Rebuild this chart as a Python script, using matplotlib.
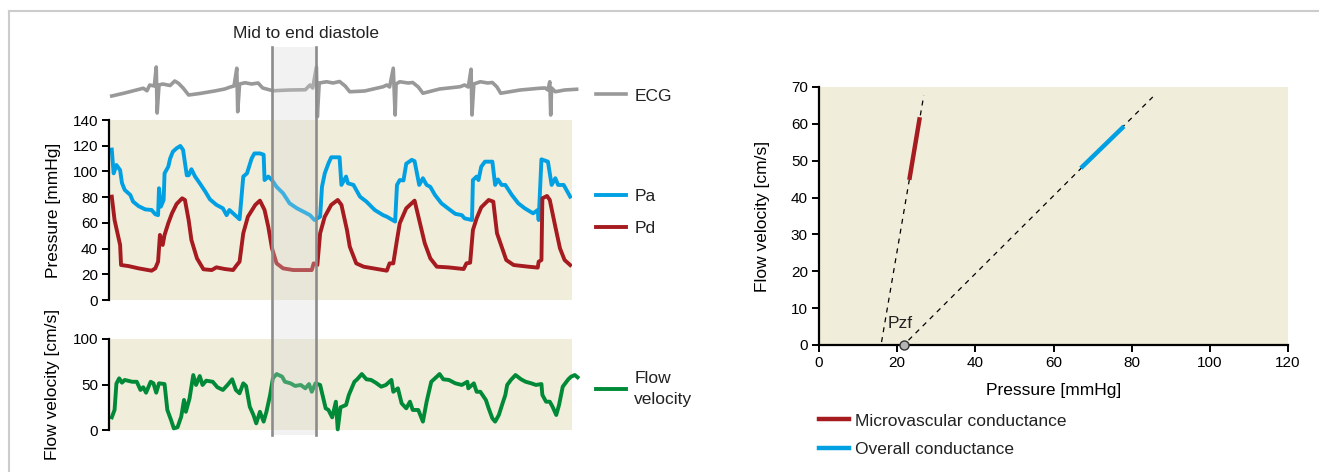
import matplotlib
matplotlib.use("Agg")
import matplotlib.pyplot as plt
from matplotlib.lines import Line2D
from matplotlib.patches import Rectangle
from matplotlib.transforms import blended_transform_factory

# ---- data ----
# time in s, shared by all three left-hand traces
t_ecg = [0.03, 0.17, 0.37, 0.41, 0.44, 0.49, 0.51, 0.52, 0.54, 0.58, 0.66, 0.71, 0.75, 0.80, 0.86,
         0.98, 1.14, 1.25, 1.31, 1.35, 1.38, 1.39, 1.41, 1.47, 1.54, 1.61, 1.66, 1.77, 1.95, 2.12,
         2.17, 2.20, 2.24, 2.25, 2.27, 2.35, 2.42, 2.49, 2.55, 2.60, 2.76, 2.96, 3.00, 3.03, 3.07,
         3.09, 3.10, 3.14, 3.23, 3.28, 3.34, 3.39, 3.57, 3.79, 3.84, 3.88, 3.91, 3.92, 3.94, 4.01,
         4.09, 4.14, 4.19, 4.23, 4.44, 4.65, 4.71, 4.74, 4.76, 4.77, 4.78, 4.82, 4.92, 5.05]
ecg = [-0.16, -0.04, 0.15, 0.05, 0.28, 0.24, 1.00, -0.84, 0.28, 0.32, 0.26, 0.44, 0.35, 0.16, -0.12,
       -0.06, 0.04, 0.12, 0.20, 0.24, 0.95, -0.79, 0.32, 0.37, 0.32, 0.36, 0.16, 0.05, 0.08, 0.09,
       0.28, 0.16, 1.00, -0.99, 0.36, 0.41, 0.36, 0.42, 0.24, 0.01, 0.04, 0.21, 0.28, 0.20, 0.95,
       -0.92, 0.32, 0.41, 0.36, 0.38, 0.20, -0.05, 0.12, 0.21, 0.28, 0.20, 0.91, -0.92, 0.32, 0.41,
       0.36, 0.38, 0.20, -0.05, 0.08, 0.15, 0.16, 0.08, 0.41, -0.92, 0.16, 0.01, 0.08, 0.11]

t_pa = [0.03, 0.05, 0.08, 0.12, 0.14, 0.17, 0.23, 0.26, 0.32, 0.39, 0.46, 0.50, 0.53, 0.54, 0.56,
        0.59, 0.60, 0.64, 0.66, 0.69, 0.73, 0.77, 0.80, 0.84, 0.86, 0.89, 0.93, 0.98, 1.04, 1.09,
        1.16, 1.23, 1.27, 1.30, 1.34, 1.41, 1.45, 1.49, 1.54, 1.57, 1.63, 1.67, 1.68, 1.72, 1.76,
        1.81, 1.88, 1.95, 2.03, 2.10, 2.17, 2.22, 2.28, 2.30, 2.33, 2.37, 2.40, 2.49, 2.51, 2.56,
        2.58, 2.64, 2.71, 2.78, 2.87, 2.96, 3.00, 3.09, 3.11, 3.14, 3.18, 3.21, 3.27, 3.30, 3.35,
        3.39, 3.43, 3.47, 3.52, 3.59, 3.66, 3.74, 3.81, 3.84, 3.92, 3.93, 3.97, 3.99, 4.02, 4.06,
        4.14, 4.17, 4.20, 4.24, 4.28, 4.35, 4.42, 4.49, 4.58, 4.63, 4.64, 4.67, 4.74, 4.78, 4.82,
        4.85, 4.91, 4.98]
pa = [117, 98.5, 105, 101, 91, 85.6, 81.7, 76.5, 73, 70.5, 70, 66.7, 66, 86.9, 72.6,
      77.8, 98.5, 103.7, 110, 115.4, 118, 119.8, 116.7, 97, 97, 101.7, 96, 90.8, 84.3, 78.3,
      74, 71.3, 66, 70, 67.4, 62.8, 96, 98.5, 110, 114, 114, 113, 93.3, 96, 93.3,
      88, 83, 75.2, 71.3, 68.7, 66, 62.2, 64.8, 88, 98.5, 106.3, 111, 111, 89.5, 96,
      90.8, 89.5, 80.4, 76.5, 70, 66, 64.8, 61, 89.5, 93.3, 93, 106, 109, 108, 89.5,
      94.7, 89.5, 88, 81.7, 75.2, 71.3, 67, 66, 63.5, 62.2, 93.3, 96, 93.3, 103.7, 107.6,
      107.6, 89.5, 93.8, 89.5, 89.5, 81.7, 75.2, 71.3, 67.4, 70, 62.2, 109.4, 107.6, 89.5, 94.7,
      89.5, 89.5, 80.4]

t_pd = [0.03, 0.06, 0.12, 0.13, 0.21, 0.32, 0.46, 0.50, 0.53, 0.55, 0.58, 0.60, 0.64, 0.68, 0.73,
        0.79, 0.82, 0.86, 0.89, 0.95, 1.02, 1.11, 1.16, 1.25, 1.34, 1.38, 1.41, 1.45, 1.50, 1.58,
        1.63, 1.68, 1.72, 1.76, 1.81, 1.88, 1.99, 2.19, 2.21, 2.25, 2.28, 2.33, 2.40, 2.47, 2.51,
        2.57, 2.60, 2.67, 2.75, 3.00, 3.03, 3.07, 3.11, 3.14, 3.21, 3.30, 3.35, 3.41, 3.47, 3.54,
        3.66, 3.83, 3.86, 3.90, 3.93, 3.97, 4.02, 4.10, 4.15, 4.19, 4.24, 4.29, 4.37, 4.53, 4.63,
        4.64, 4.67, 4.68, 4.73, 4.76, 4.82, 4.87, 4.92, 4.98]
pd = [80.4, 62.2, 42.8, 27.2, 26.4, 24.6, 22.8, 24.6, 29.8, 50.6, 42.8, 50.6, 59.7, 67.4, 74.7,
      79.1, 77.8, 62.2, 46.7, 32.4, 23.9, 23.3, 25.4, 24.1, 23.3, 27.2, 29.8, 51.9, 64.8, 74,
      77.3, 70, 57, 40.2, 28.5, 24.6, 23.3, 23.3, 28.5, 27.2, 51.9, 64.8, 74, 77.8, 74,
      54.4, 41.5, 28.5, 25.9, 22.8, 28.5, 28.5, 46.7, 59.7, 71.3, 77.3, 62.2, 44.1, 32.4, 25.9,
      25.4, 24.1, 28.5, 29, 54.4, 63.5, 72.1, 77.8, 76.5, 51.9, 41.5, 31.1, 27.2, 25.9, 25.2,
      29.8, 31.1, 79.1, 80.9, 77.8, 57, 40.2, 31.1, 27.2]

t_flow = [0.03, 0.06, 0.08, 0.11, 0.14, 0.17, 0.25, 0.30, 0.34, 0.37, 0.40, 0.45, 0.48, 0.51, 0.54,
          0.60, 0.63, 0.67, 0.70, 0.74, 0.78, 0.81, 0.83, 0.87, 0.91, 0.94, 0.98, 1.01, 1.05, 1.12,
          1.17, 1.23, 1.28, 1.33, 1.37, 1.41, 1.45, 1.48, 1.52, 1.56, 1.59, 1.63, 1.67, 1.70, 1.74,
          1.77, 1.81, 1.87, 1.90, 1.96, 2.01, 2.07, 2.12, 2.16, 2.19, 2.23, 2.28, 2.34, 2.37, 2.41,
          2.45, 2.47, 2.50, 2.56, 2.59, 2.65, 2.68, 2.73, 2.78, 2.83, 2.88, 2.94, 2.99, 3.05, 3.07,
          3.12, 3.16, 3.21, 3.25, 3.28, 3.34, 3.39, 3.43, 3.48, 3.54, 3.57, 3.61, 3.67, 3.74, 3.81,
          3.87, 3.88, 3.94, 3.97, 4.01, 4.07, 4.10, 4.14, 4.17, 4.21, 4.25, 4.28, 4.30, 4.34, 4.39,
          4.45, 4.50, 4.56, 4.61, 4.67, 4.68, 4.72, 4.76, 4.79, 4.83, 4.86, 4.90, 4.96, 4.99, 5.03,
          5.06]
flow = [13.9, 22, 51, 56.8, 52, 55, 53, 53, 44, 47, 41, 53, 51.3, 41, 51.3,
        50.5, 22, 11, 1.8, 3, 14.7, 33, 20, 34.8, 60.4, 49.5, 59.3, 49.5, 54.2, 53,
        47, 44, 49.5, 55.7, 44, 40.3, 51.3, 48.4, 25.6, 16.5, 7.3, 20, 9.2, 20, 38.5,
        56.8, 61.5, 58.6, 53, 51.3, 48.4, 49.5, 45.8, 50.5, 42, 51.3, 49.5, 23.8, 22, 13.9,
        31.1, 0.7, 24.9, 27.5, 38.5, 53, 55.7, 61.5, 55.7, 55, 52, 47.6, 49.5, 55, 42,
        45.8, 29.3, 23.8, 31.1, 22, 22, 9.2, 31.1, 53, 58.6, 61.5, 55.7, 55, 51.3, 49.5,
        53, 45.8, 51.3, 42, 42, 33, 23.8, 12.8, 9.2, 16.5, 29.3, 38.5, 49.5, 55, 60.4,
        55.7, 53, 51.3, 49.5, 50.5, 38.5, 31.1, 31.1, 25.6, 16.5, 27.5, 47.6, 55.7, 58.6, 60.4,
        57.9]

diastole_window = [1.76, 2.235]   # s

# right panel: pressure (mmHg) vs flow velocity (cm/s)
micro_p = [23.2, 25.7]
micro_v = [45.4, 61.2]
micro_fit_p = [16.0, 26.8]
micro_fit_v = [0.8, 67.7]
overall_p = [67.4, 77.6]
overall_v = [48.4, 58.9]
overall_fit_p = [22.9, 85.4]
overall_fit_v = [1.3, 67.3]
pzf = 21.8

# ---- style ----
BG = "#f1eddb"
C_ECG = "#999999"
C_PA = "#00a0e3"
C_PD = "#a61b1f"
C_FLOW = "#008a38"
TEXT = ["Liberation Sans", "DejaVu Sans"]
NARROW = ["Liberation Sans Narrow", "Liberation Sans", "DejaVu Sans"]
FS = 12.5

plt.rcParams["font.family"] = TEXT
plt.rcParams["text.color"] = "#222222"

W, H = 1319, 472
fig = plt.figure(figsize=(W / 100, H / 100), dpi=100)


def box(x0, x1, ytop, ybot):
    return [x0 / W, 1 - ybot / H, (x1 - x0) / W, (ybot - ytop) / H]


def style_left(ax):
    ax.set_facecolor(BG)
    for s in ("top", "right", "bottom"):
        ax.spines[s].set_visible(False)
    ax.spines["left"].set_linewidth(1.6)
    ax.set_xticks([])
    ax.tick_params(axis="y", length=5, width=1.4, pad=3, labelsize=11)
    for lab in ax.get_yticklabels():
        lab.set_family(NARROW)


def side_legend(ax, y, **kw):
    return ax.legend(loc="center left", bbox_to_anchor=(1.018, y), frameon=False,
                     handlelength=1.75, handletextpad=0.45, fontsize=FS, **kw)


ax_ecg = fig.add_axes(box(109, 572, 55, 120))
ax_p = fig.add_axes(box(109, 572, 120, 300))
ax_f = fig.add_axes(box(109, 572, 339, 430))
ax_r = fig.add_axes(box(819, 1288, 87, 345))

# ECG
ax_ecg.plot(t_ecg, ecg, color=C_ECG, lw=2.6, solid_joinstyle="round", clip_on=False, label="ECG")
ax_ecg.set_xlim(0, 5.0)
ax_ecg.set_ylim(-1.12, 1.48)
ax_ecg.axis("off")
side_legend(ax_ecg, 0.37)

# pressure
ax_p.plot(t_pa, pa, color=C_PA, lw=2.8, solid_joinstyle="round", label="Pa")
ax_p.plot(t_pd, pd, color=C_PD, lw=2.8, solid_joinstyle="round", label="Pd")
ax_p.set_xlim(0, 5.0)
ax_p.set_ylim(0, 140)
ax_p.set_yticks(range(0, 141, 20))
style_left(ax_p)
ax_p.set_ylabel("Pressure [mmHg]", fontsize=FS, labelpad=8)
side_legend(ax_p, 0.485, labelspacing=0.95)

# flow velocity
ax_f.plot(t_flow, flow, color=C_FLOW, lw=2.8, solid_joinstyle="round", clip_on=False,
          label="Flow\nvelocity")
ax_f.set_xlim(0, 5.0)
ax_f.set_ylim(0, 100)
ax_f.set_yticks([0, 50, 100])
style_left(ax_f)
ax_f.set_ylabel("Flow velocity [cm/s]", fontsize=FS, labelpad=9)
leg_f = side_legend(ax_f, 0.45)
leg_f.get_texts()[0].set_linespacing(1.5)

# mid-to-end diastole window across all left panels
tr = blended_transform_factory(ax_p.transData, fig.transFigure)
y_lo, y_hi = 1 - 435 / H, 1 - 47 / H
fig.patches.append(Rectangle((diastole_window[0], y_lo), diastole_window[1] - diastole_window[0],
                             y_hi - y_lo, transform=tr, facecolor="#d6d6d6", alpha=0.3,
                             edgecolor="none", zorder=5))
for tx in diastole_window:
    fig.lines.append(Line2D([tx, tx], [y_lo, y_hi], transform=tr, color="#8c8c8c", lw=1.9, zorder=6))
fig.text(306 / W, 1 - 33 / H, "Mid to end diastole", ha="center", va="center", fontsize=FS)

# right panel
ax_r.set_facecolor(BG)
ax_r.plot(micro_fit_p, micro_fit_v, color="black", lw=0.9, ls=(0, (4, 4)))
ax_r.plot(overall_fit_p, overall_fit_v, color="black", lw=0.9, ls=(0, (4, 4)))
ax_r.plot(micro_p, micro_v, color=C_PD, lw=3.2, label="Microvascular conductance")
ax_r.plot(overall_p, overall_v, color=C_PA, lw=3.2, label="Overall conductance")
ax_r.plot([pzf], [0], marker="o", ms=6.5, mfc="#b5b5b5", mec="#333333", mew=1.0,
          clip_on=False, zorder=5)
ax_r.annotate("Pzf", (pzf, 0), xytext=(-12, 10), textcoords="offset points",
              fontsize=FS, ha="left", va="bottom")
ax_r.set_xlim(0, 120)
ax_r.set_ylim(0, 70)
ax_r.set_xticks(range(0, 121, 20))
ax_r.set_yticks(range(0, 71, 10))
for s in ("top", "right"):
    ax_r.spines[s].set_visible(False)
for s in ("left", "bottom"):
    ax_r.spines[s].set_linewidth(1.6)
ax_r.tick_params(length=5, width=1.4, labelsize=11, pad=3)
for lab in ax_r.get_xticklabels() + ax_r.get_yticklabels():
    lab.set_family(NARROW)
ax_r.set_xlabel("Pressure [mmHg]", fontsize=FS, labelpad=9)
ax_r.set_ylabel("Flow velocity [cm/s]", fontsize=FS, labelpad=15)
ax_r.legend(loc="upper left", bbox_to_anchor=(-0.015, -0.238), frameon=False,
            handlelength=1.75, handletextpad=0.35, fontsize=FS, labelspacing=0.75,
            borderaxespad=0)

# thin frame from the source page
fig.lines.append(Line2D([9 / W, 9 / W], [0, 1 - 11 / H], transform=fig.transFigure,
                        color="#cccccc", lw=1.5))
fig.lines.append(Line2D([9 / W, 1], [1 - 11 / H, 1 - 11 / H], transform=fig.transFigure,
                        color="#cccccc", lw=1.5))

fig.savefig("out.png", dpi=100, facecolor="white")
